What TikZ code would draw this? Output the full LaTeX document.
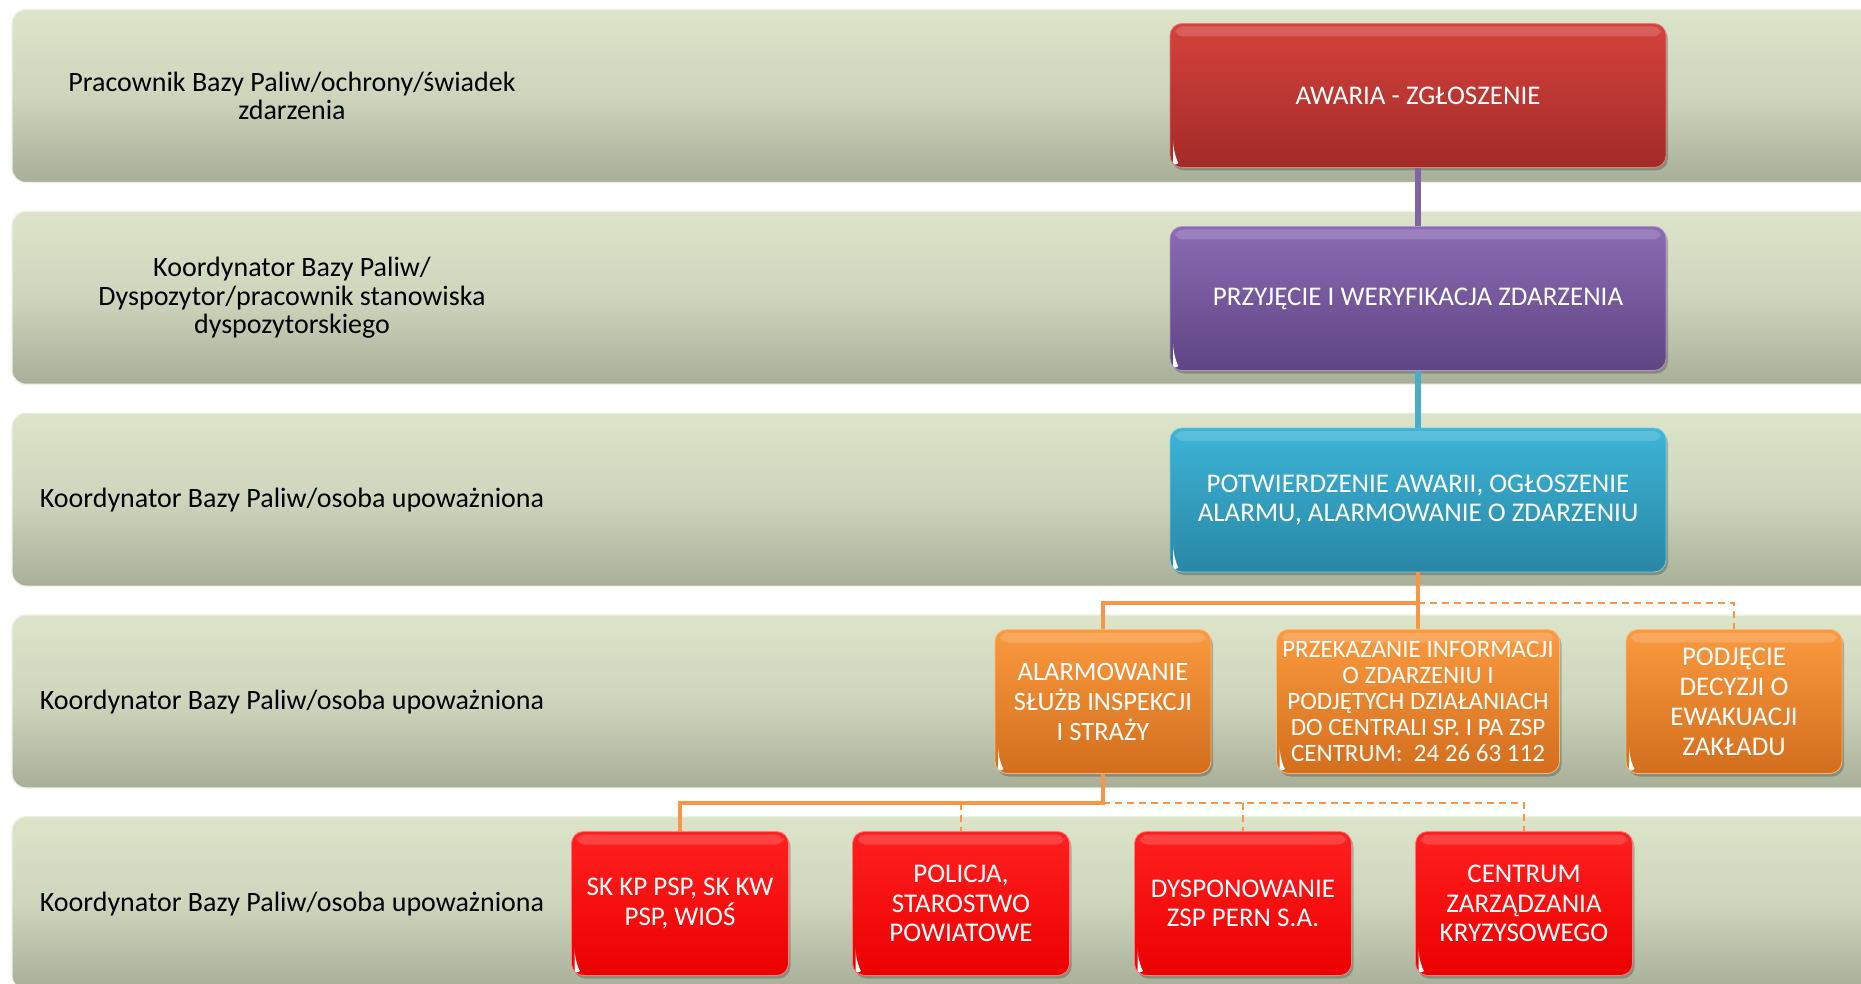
\documentclass[tikz,border=0pt]{standalone}
\usepackage{fontspec}
\setmainfont{Carlito}
\definecolor{bandtop}{HTML}{DCE4CA}
\definecolor{bandmid}{HTML}{CDD5BC}
\definecolor{bandbot}{HTML}{A8AF99}
\definecolor{bandedge}{HTML}{EEF2E2}
\definecolor{redtop}{HTML}{D5423D}
\definecolor{redbot}{HTML}{A22B27}
\definecolor{purtop}{HTML}{8B6BB4}
\definecolor{purbot}{HTML}{5F4584}
\definecolor{teatop}{HTML}{3CB5D8}
\definecolor{teabot}{HTML}{2A86A5}
\definecolor{oratop}{HTML}{FA9A3F}
\definecolor{orabot}{HTML}{D36E1D}
\definecolor{brtop}{HTML}{FF2020}
\definecolor{brbot}{HTML}{EC0000}
\definecolor{purline}{HTML}{8064A2}
\definecolor{tealine}{HTML}{4BACC6}
\definecolor{oraline}{HTML}{F79646}
\begin{document}
\begin{tikzpicture}[x=1pt,y=-1pt,
  band/.style={rounded corners=14pt, top color=bandtop, bottom color=bandbot, middle color=bandmid, draw=bandedge, line width=1.2pt},
  lab/.style={align=center, text=black, font=\fontsize{28}{28.5}\selectfont},
  box/.style={rounded corners=12pt, align=center, text=white, inner sep=1pt,
    minimum height=144pt, font=\fontsize{27}{28.5}\selectfont,
    preaction={fill=black, opacity=0.22, transform canvas={xshift=2pt,yshift=-3pt}},
    path picture={
      \fill[white, opacity=0.16, rounded corners=8pt]
        ([shift={(5pt,-3pt)}]path picture bounding box.north west) rectangle
        ([shift={(-5pt,-13pt)}]path picture bounding box.north east);
      \fill[white]
        ([shift={(3pt,15pt)}]path picture bounding box.south west)
        .. controls ([shift={(3pt,3pt)}]path picture bounding box.south west)
        .. ([shift={(15pt,3pt)}]path picture bounding box.south west)
        .. controls ([shift={(7pt,7pt)}]path picture bounding box.south west)
        .. cycle;
    }},
  redbox/.style={box, top color=redtop, bottom color=redbot, draw=redtop!70!white, line width=0.8pt},
  purbox/.style={box, top color=purtop, bottom color=purbot, draw=purtop!70!white, line width=0.8pt},
  teabox/.style={box, top color=teatop, bottom color=teabot, draw=teatop!70!white, line width=0.8pt},
  orabox/.style={box, top color=oratop, bottom color=orabot, draw=oratop!70!white, line width=0.8pt},
  brbox/.style={box, top color=brtop, bottom color=brbot, draw=brtop!60!white, line width=0.8pt},
  solidora/.style={draw=oraline, line width=4.5pt},
  dashora/.style={draw=oraline, line width=2.2pt, dash pattern=on 7pt off 5pt}
]
\fill[white] (0,0) rectangle (1861,984);
\clip (0,0) rectangle (1861,984);

% bands
\foreach \t in {9.5,211.3,413.1,614.9,816.7}
  \path[band] (12,\t) rectangle (1900,\t+173);

% band labels
\node[lab] (l1) at (292,96) {Pracownik Bazy Paliw/ochrony/świadek\\zdarzenia};
\node[lab] (l2) at (292,298) {Koordynator Bazy Paliw/\\Dyspozytor/pracownik stanowiska\\dyspozytorskiego};
\node[lab] (l3) at (292,500) {Koordynator Bazy Paliw/osoba upoważniona};
\node[lab] (l4) at (292,702) {Koordynator Bazy Paliw/osoba upoważniona};
\node[lab] (l5) at (292,904) {Koordynator Bazy Paliw/osoba upoważniona};

% main column
\node[redbox, minimum width=496pt] (a1) at (1418,95.5) {AWARIA - ZGŁOSZENIE};
\node[purbox, minimum width=496pt] (a2) at (1418,298.5) {PRZYJĘCIE I WERYFIKACJA ZDARZENIA};
\node[teabox, minimum width=496pt] (a3) at (1418,500) {POTWIERDZENIE AWARII, OGŁOSZENIE\\ALARMU, ALARMOWANIE O ZDARZENIU};

% row 4
\node[orabox, minimum width=216pt, font=\fontsize{26.5}{30}\selectfont] (b1) at (1103,701.5) {ALARMOWANIE\\SŁUŻB INSPEKCJI\\I STRAŻY};
\node[orabox, minimum width=283pt, font=\fontsize{25}{26}\selectfont] (b2) at (1418,701.5) {PRZEKAZANIE INFORMACJI\\O ZDARZENIU I\\PODJĘTYCH DZIAŁANIACH\\DO CENTRALI SP. I PA ZSP\\CENTRUM:~~24 26 63 112};
\node[orabox, minimum width=216pt, font=\fontsize{27}{30}\selectfont] (b3) at (1734,701.5) {PODJĘCIE\\DECYZJI O\\EWAKUACJI\\ZAKŁADU};

% row 5
\node[brbox, minimum width=217pt, font=\fontsize{27}{29.5}\selectfont] (c1) at (680,903.5) {SK KP PSP, SK KW\\PSP, WIOŚ};
\node[brbox, minimum width=217pt, font=\fontsize{27}{29.5}\selectfont] (c2) at (961,903.5) {POLICJA,\\STAROSTWO\\POWIATOWE};
\node[brbox, minimum width=217pt, font=\fontsize{27}{29.5}\selectfont] (c3) at (1243,903.5) {DYSPONOWANIE\\ZSP PERN S.A.};
\node[brbox, minimum width=217pt, font=\fontsize{27}{29.5}\selectfont] (c4) at (1524,903.5) {CENTRUM\\ZARZĄDZANIA\\KRYZYSOWEGO};

% connectors
\draw[purline, line width=6pt] (a1.south) -- (a2.north);
\draw[tealine, line width=6pt] (a2.south) -- (a3.north);

\coordinate (j1) at (1418,603);
\draw[dashora] (j1) -| (b3.north);
\draw[solidora] (a3.south) -- (b2.north);
\draw[solidora] (j1) -| (b1.north);

\coordinate (j2) at (1103,803);
\draw[dashora] (j2) -| (c4.north);
\draw[dashora] (c2.north |- j2) -- (c2.north);
\draw[dashora] (c3.north |- j2) -- (c3.north);
\draw[solidora] (b1.south) -- (j2) -| (c1.north);
\end{tikzpicture}
\end{document}
